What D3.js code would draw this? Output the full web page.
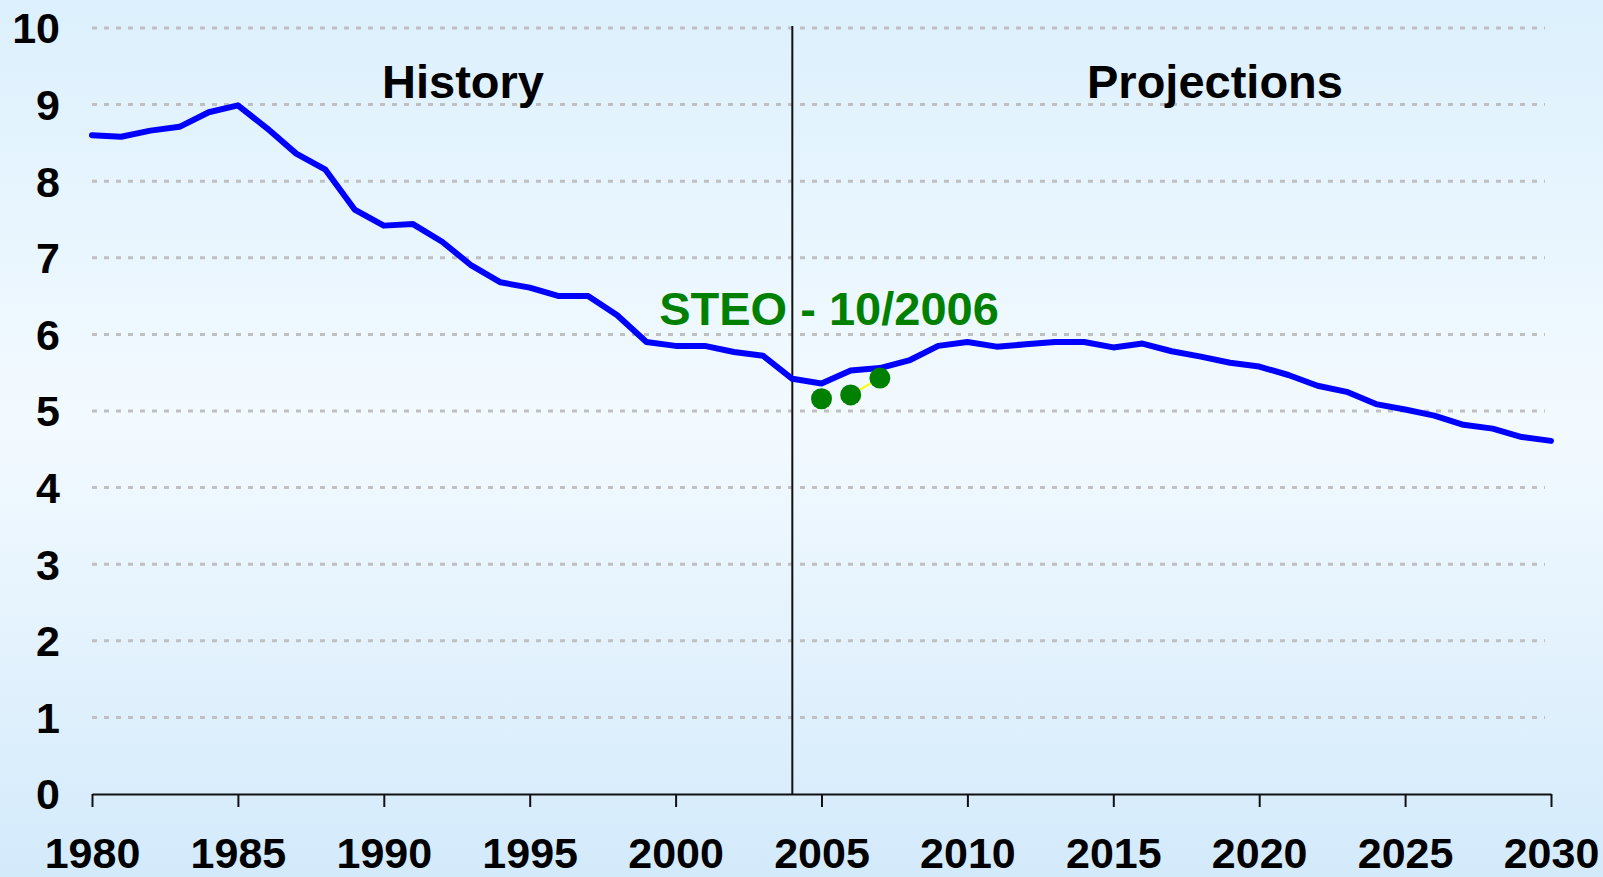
<!DOCTYPE html>
<html>
<head>
<meta charset="utf-8">
<script src="https://cdn.jsdelivr.net/npm/d3@7"></script>
<style>
  html, body { margin: 0; padding: 0; overflow: hidden; }
  svg { display: block; font-family: "Liberation Sans", Arial, sans-serif; font-weight: bold; }
</style>
</head>
<body>
<svg width="1603" height="877"></svg>
<script>
var svg = d3.select("svg"),
    width = +svg.attr("width"),
    height = +svg.attr("height");

// history + projections (one value per year, 1980-2030)
var years = d3.range(1980, 2031);
var values = [
  8.60, 8.58, 8.66, 8.71, 8.90, 8.99, 8.69, 8.36, 8.15, 7.63,
  7.42, 7.44, 7.21, 6.90, 6.68, 6.61, 6.50, 6.50, 6.25, 5.90,
  5.85, 5.85, 5.77, 5.72, 5.42, 5.36, 5.53, 5.56, 5.66, 5.85,
  5.90, 5.84, 5.87, 5.90, 5.90, 5.83, 5.88, 5.78, 5.71, 5.63,
  5.58, 5.47, 5.33, 5.25, 5.09, 5.02, 4.94, 4.82, 4.77, 4.66,
  4.61
];

// short term outlook points
var steoYears = [2005, 2006, 2007];
var steoValues = [5.16, 5.21, 5.43];

var yTicks = [0, 1, 2, 3, 4, 5, 6, 7, 8, 9, 10];
var xTicks = [1980, 1985, 1990, 1995, 2000, 2005, 2010, 2015, 2020, 2025, 2030];
var splitYear = 2004;

var x = d3.scaleLinear().domain([1980, 2030]).range([92, 1551]);
var y = d3.scaleLinear().domain([0, 10]).range([794, 28]);

// background gradient
var defs = svg.append("defs");
var grad = defs.append("linearGradient")
    .attr("id", "bg")
    .attr("x1", 0).attr("y1", 0).attr("x2", 0).attr("y2", 1);
grad.append("stop").attr("offset", "0%").attr("stop-color", "#dcf0fd");
grad.append("stop").attr("offset", "48%").attr("stop-color", "#f3faff");
grad.append("stop").attr("offset", "100%").attr("stop-color", "#d3eafb");

svg.append("rect")
    .attr("width", width)
    .attr("height", height)
    .attr("fill", "url(#bg)");

// dotted gridlines
svg.append("g")
  .selectAll("line")
  .data(yTicks.filter(function(d) { return d > 0; }))
  .enter().append("line")
    .attr("x1", x(1980))
    .attr("x2", x(2030) - 6)
    .attr("y1", function(d) { return y(d); })
    .attr("y2", function(d) { return y(d); })
    .attr("stroke", "#c0c0c0")
    .attr("stroke-width", 3)
    .attr("stroke-dasharray", "5,7");

// y labels
svg.append("g")
  .selectAll("text")
  .data(yTicks)
  .enter().append("text")
    .attr("x", 60)
    .attr("y", function(d) { return y(d); })
    .attr("dy", "0.36em")
    .attr("text-anchor", "end")
    .attr("font-size", 43)
    .attr("fill", "#000")
    .text(function(d) { return d; });

// x axis
var xAxis = svg.append("g")
    .attr("transform", "translate(0," + y(0) + ")")
    .call(d3.axisBottom(x).tickValues(xTicks).tickSize(13).tickSizeOuter(0).tickFormat(d3.format("d")));

xAxis.select(".domain").attr("stroke", "#111").attr("stroke-width", 2);
xAxis.selectAll(".tick line").attr("stroke", "#111").attr("stroke-width", 2);
xAxis.selectAll(".tick text")
    .attr("y", 74)
    .attr("dy", 0)
    .attr("font-size", 43)
    .attr("font-family", "'Liberation Sans', Arial, sans-serif")
    .attr("font-weight", "bold")
    .attr("fill", "#000");

// history / projections divider
svg.append("line")
    .attr("x1", x(splitYear))
    .attr("x2", x(splitYear))
    .attr("y1", y(10) - 2)
    .attr("y2", y(0))
    .attr("stroke", "#111")
    .attr("stroke-width", 2);

svg.append("text")
    .attr("x", 463)
    .attr("y", 98)
    .attr("text-anchor", "middle")
    .attr("font-size", 47)
    .text("History");

svg.append("text")
    .attr("x", 1215)
    .attr("y", 98)
    .attr("text-anchor", "middle")
    .attr("font-size", 47)
    .text("Projections");

// main line
var line = d3.line()
    .x(function(d, i) { return x(years[i]); })
    .y(function(d) { return y(d); });

svg.append("path")
    .datum(values)
    .attr("d", line)
    .attr("fill", "none")
    .attr("stroke", "#0000ff")
    .attr("stroke-width", 6)
    .attr("stroke-linejoin", "round")
    .attr("stroke-linecap", "round");

// steo: thin yellow connector between the last two points
svg.append("line")
    .attr("x1", x(steoYears[1]))
    .attr("y1", y(steoValues[1]))
    .attr("x2", x(steoYears[2]))
    .attr("y2", y(steoValues[2]))
    .attr("stroke", "#ffff00")
    .attr("stroke-width", 2);

svg.append("g")
  .selectAll("circle")
  .data(steoValues)
  .enter().append("circle")
    .attr("cx", function(d, i) { return x(steoYears[i]); })
    .attr("cy", function(d) { return y(d); })
    .attr("r", 10.5)
    .attr("fill", "#008000");

svg.append("text")
    .attr("x", 829)
    .attr("y", 325)
    .attr("text-anchor", "middle")
    .attr("font-size", 47)
    .attr("fill", "#008000")
    .text("STEO - 10/2006");
</script>
</body>
</html>
